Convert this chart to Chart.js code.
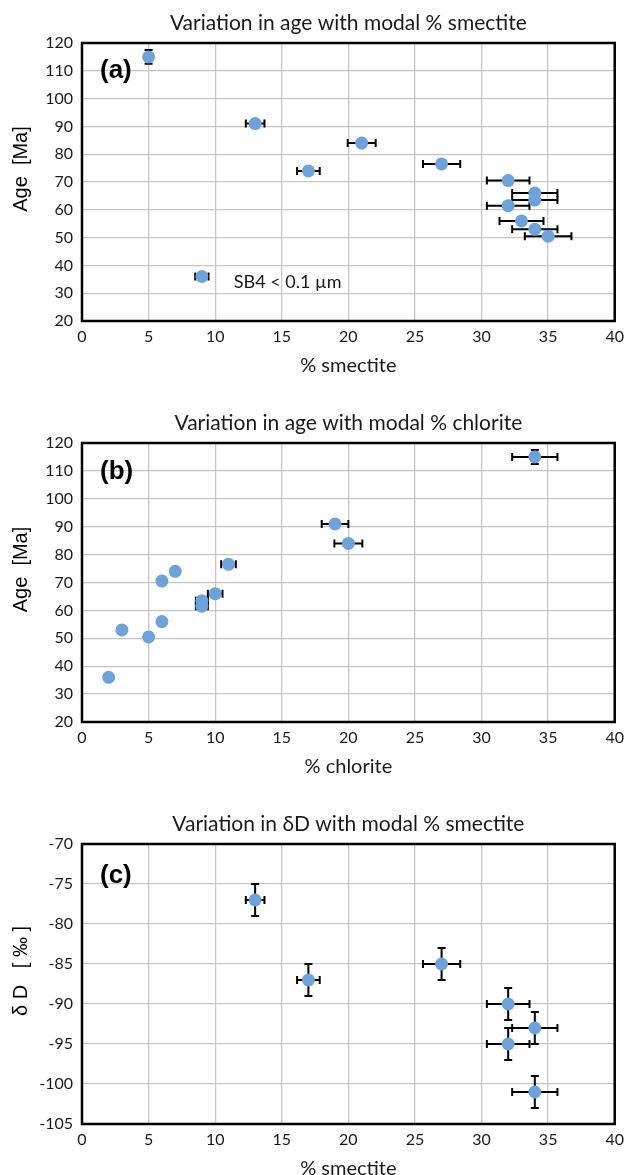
<!DOCTYPE html>
<html>
<head>
<meta charset="utf-8">
<script src="https://cdn.jsdelivr.net/npm/chart.js@4.4.0/dist/chart.umd.min.js"></script>
<style>
  html, body { margin: 0; padding: 0; background: #fff; overflow: hidden; }
  canvas { position: absolute; left: 0; }
</style>
</head>
<body>
<canvas id="chartA" style="top:0px" width="630" height="390"></canvas>
<canvas id="chartB" style="top:390px" width="630" height="390"></canvas>
<canvas id="chartC" style="top:780px" width="630" height="395"></canvas>
<script>
// ticks
const pctTicks = [0, 5, 10, 15, 20, 25, 30, 35, 40];
const ageTicks = [20, 30, 40, 50, 60, 70, 80, 90, 100, 110, 120];
const deltaTicks = [-105, -100, -95, -90, -85, -80, -75, -70];

// (a) age vs modal % smectite
const smectiteA = [5, 13, 21, 17, 27, 32, 34, 34, 32, 33, 34, 35, 9];
const ageA = [115, 91, 84, 74, 76.5, 70.5, 66, 63.5, 61.5, 56, 53, 50.5, 36];
const smectiteErrA = [0, 0.7, 1.05, 0.85, 1.4, 1.6, 1.7, 1.7, 1.6, 1.65, 1.7, 1.75, 0.5];
const ageErrA = [2.5, 0, 0, 0, 0, 0, 0, 0, 0, 0, 0, 0, 0];

// (b) age vs modal % chlorite
const chloriteB = [34, 19, 20, 11, 7, 6, 10, 9, 9, 6, 3, 5, 2];
const ageB = [115, 91, 84, 76.5, 74, 70.5, 66, 63.5, 61.5, 56, 53, 50.5, 36];
const chloriteErrB = [1.7, 1.0, 1.05, 0.55, 0, 0, 0.55, 0.45, 0.45, 0, 0, 0, 0];
const ageErrB = [2.5, 0, 0, 0, 0, 0, 0, 0, 0, 0, 0, 0, 0];

// (c) dD vs modal % smectite
const smectiteC = [13, 17, 27, 32, 34, 32, 34];
const deltaDC = [-77, -87, -85, -90, -93, -95, -101];
const smectiteErrC = [0.7, 0.85, 1.4, 1.6, 1.7, 1.6, 1.7];
const deltaDErrC = [2, 2, 2, 2, 2, 2, 2];

const MARKER = '#6FA2DA';
const GRID = '#C6C6C6';

// error bars under the points, frame + texts on top
const decorPlugin = {
  id: 'decor',
  beforeDatasetsDraw(chart) {
    const { ctx, scales: { x, y } } = chart;
    const cap = 4;
    ctx.save();
    ctx.strokeStyle = '#000';
    ctx.lineWidth = 2;
    chart.data.datasets.forEach(ds => {
      ds.data.forEach((p, i) => {
        const px = x.getPixelForValue(p.x);
        const py = y.getPixelForValue(p.y);
        const ex = ds.errX[i], ey = ds.errY[i];
        ctx.beginPath();
        if (ex) {
          const x0 = x.getPixelForValue(p.x - ex), x1 = x.getPixelForValue(p.x + ex);
          ctx.moveTo(x0, py); ctx.lineTo(x1, py);
          ctx.moveTo(x0, py - cap); ctx.lineTo(x0, py + cap);
          ctx.moveTo(x1, py - cap); ctx.lineTo(x1, py + cap);
        }
        if (ey) {
          const y0 = y.getPixelForValue(p.y - ey), y1 = y.getPixelForValue(p.y + ey);
          ctx.moveTo(px, y0); ctx.lineTo(px, y1);
          ctx.moveTo(px - cap, y0); ctx.lineTo(px + cap, y0);
          ctx.moveTo(px - cap, y1); ctx.lineTo(px + cap, y1);
        }
        ctx.stroke();
      });
    });
    ctx.restore();
  },
  afterDraw(chart, args, opts) {
    const { ctx, chartArea: a, scales: { x, y } } = chart;
    ctx.save();
    ctx.strokeStyle = '#000';
    ctx.lineWidth = 2.5;
    ctx.strokeRect(a.left, a.top, a.right - a.left, a.bottom - a.top);

    const cx = (a.left + a.right) / 2;
    ctx.fillStyle = '#1a1a1a';
    ctx.textAlign = 'center';
    ctx.textBaseline = 'middle';
    ctx.font = '21px Lato';
    ctx.fillText(opts.title, cx, a.top - 20);
    ctx.font = '20px Lato';
    ctx.fillText(opts.xTitle, cx, a.bottom + 45);

    ctx.save();
    ctx.translate(21, (a.top + a.bottom) / 2 - 13);
    ctx.rotate(-Math.PI / 2);
    ctx.font = '20px "Liberation Sans", Arial';
    ctx.fillStyle = '#000';
    ctx.fillText(opts.yTitle, 0, 0);
    ctx.restore();

    ctx.textAlign = 'left';
    ctx.fillStyle = '#000';
    ctx.font = 'bold 26px "Liberation Sans", Arial';
    ctx.fillText(opts.panel, a.left + 18, a.top + opts.panelDy);

    if (opts.note) {
      ctx.font = '18px Lato';
      ctx.fillStyle = '#1a1a1a';
      ctx.fillText(opts.note.text, x.getPixelForValue(opts.note.x), y.getPixelForValue(opts.note.y));
    }
    ctx.restore();
  }
};

function makeChart(id, xs, ys, xErr, yErr, yTicks, padTop, xAxisHeight, decor) {
  const ctx = document.getElementById(id).getContext('2d');
  return new Chart(ctx, {
    type: 'scatter',
    data: {
      datasets: [{
        data: xs.map((v, i) => ({ x: v, y: ys[i] })),
        errX: xErr,
        errY: yErr,
        backgroundColor: MARKER,
        borderWidth: 0,
        pointRadius: 6.5,
        pointHoverRadius: 6.5
      }]
    },
    options: {
      responsive: false,
      animation: false,
      layout: { padding: { top: padTop, right: 7, bottom: 0, left: 0 } },
      plugins: {
        legend: { display: false },
        tooltip: { enabled: false },
        decor: decor
      },
      scales: {
        x: {
          type: 'linear',
          min: pctTicks[0],
          max: pctTicks[pctTicks.length - 1],
          ticks: { stepSize: pctTicks[1] - pctTicks[0], padding: 6, color: '#1a1a1a', font: { family: 'Lato', size: 16 } },
          grid: { color: GRID, lineWidth: 1.3, drawTicks: false },
          border: { display: false },
          afterFit: (s) => { s.height = xAxisHeight; }
        },
        y: {
          type: 'linear',
          min: yTicks[0],
          max: yTicks[yTicks.length - 1],
          ticks: { stepSize: yTicks[1] - yTicks[0], padding: 9, color: '#1a1a1a', font: { family: 'Lato', size: 16 } },
          grid: { color: GRID, lineWidth: 1.3, drawTicks: false },
          border: { display: false },
          afterFit: (s) => { s.width = 82; }
        }
      }
    },
    plugins: [decorPlugin]
  });
}

makeChart('chartA', smectiteA, ageA, smectiteErrA, ageErrA, ageTicks, 43, 69, {
  title: 'Variation in age with modal % smectite',
  xTitle: '% smectite',
  yTitle: 'Age  [Ma]',
  panel: '(a)',
  panelDy: 28,
  note: { text: 'SB4 < 0.1 µm', x: 11.4, y: 34 }
});

makeChart('chartB', chloriteB, ageB, chloriteErrB, ageErrB, ageTicks, 53, 58, {
  title: 'Variation in age with modal % chlorite',
  xTitle: '% chlorite',
  yTitle: 'Age  [Ma]',
  panel: '(b)',
  panelDy: 29
});

makeChart('chartC', smectiteC, deltaDC, smectiteErrC, deltaDErrC, deltaTicks, 64, 51, {
  title: 'Variation in δD with modal % smectite',
  xTitle: '% smectite',
  yTitle: 'δ D   [ ‰ ]',
  panel: '(c)',
  panelDy: 32
});
</script>
</body>
</html>
